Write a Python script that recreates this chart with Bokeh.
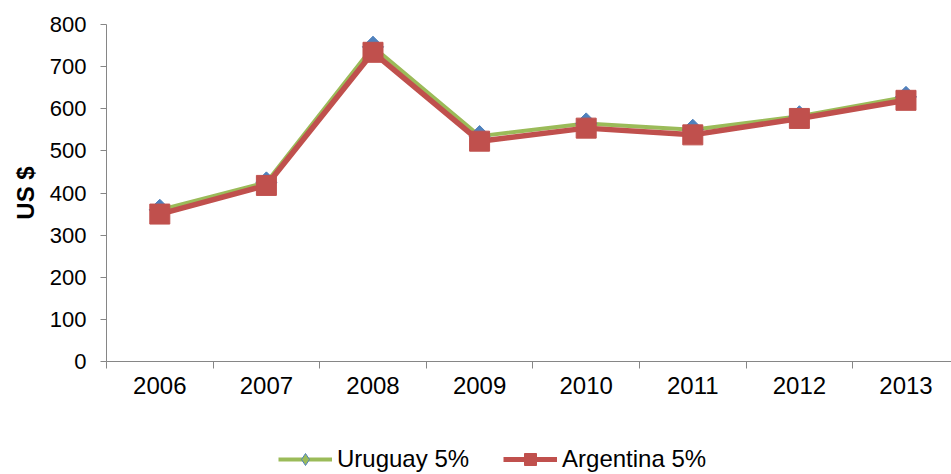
import numpy as np
from bokeh.plotting import figure
from bokeh.layouts import column
from bokeh.models import Range1d, FixedTicker, Legend, LegendItem, ColumnDataSource
from bokeh.embed import file_html
from bokeh.resources import INLINE

years = ["2006", "2007", "2008", "2009", "2010", "2011", "2012", "2013"]
uruguay = [360, 425, 747, 535, 565, 550, 582, 628]
argentina = [350, 418, 734, 523, 554, 538, 577, 620]
y_ticks = [0, 100, 200, 300, 400, 500, 600, 700, 800]
series_names = ["Uruguay 5%", "Argentina 5%"]

xpos = list(np.arange(len(years)) + 0.5)
src = ColumnDataSource(dict(x=xpos, uru=uruguay, arg=argentina))

FONT = "Liberation Sans"
AXIS_COLOR = "#868686"
GREEN = "#9BBB59"
BLUE = "#4F81BD"
RED = "#C0504D"

p = figure(width=951, height=420, output_backend="svg", toolbar_location=None,
           x_range=Range1d(0, 7.927), y_range=Range1d(0, 800),
           min_border_left=106, min_border_right=0, min_border_top=24, min_border_bottom=59)
p.outline_line_color = None
p.grid.visible = False
p.background_fill_color = "white"
p.border_fill_color = "white"

# y axis
ya = p.yaxis[0]
ya.ticker = FixedTicker(ticks=y_ticks)
ya.axis_line_color = AXIS_COLOR
ya.major_tick_line_color = AXIS_COLOR
ya.major_tick_out = 6
ya.major_tick_in = 0
ya.minor_tick_line_color = None
ya.major_label_text_font = FONT
ya.major_label_text_font_size = "22px"
ya.major_label_text_color = "black"
ya.major_label_standoff = 14
ya.axis_label = "US $"
ya.axis_label_text_font = FONT
ya.axis_label_text_font_size = "24px"
ya.axis_label_text_font_style = "bold"
ya.axis_label_text_color = "black"
ya.axis_label_standoff = 8

# x axis: labels at category centres, tick marks at boundaries
xa = p.xaxis[0]
xa.ticker = FixedTicker(ticks=xpos, minor_ticks=list(range(len(years) + 1)))
xa.major_label_overrides = {float(x): y for x, y in zip(xpos, years)}
xa.axis_line_color = AXIS_COLOR
xa.major_tick_line_color = None
xa.major_tick_out = 7
xa.minor_tick_line_color = AXIS_COLOR
xa.minor_tick_out = 7
xa.minor_tick_in = 0
xa.major_label_text_font = FONT
xa.major_label_text_font_size = "24px"
xa.major_label_text_color = "black"
xa.major_label_standoff = 8

p.line("x", "uru", source=src, line_color=GREEN, line_width=4)
p.scatter("x", "uru", source=src, marker="square", angle=np.pi / 4, size=15,
          fill_color=BLUE, line_color=BLUE)
p.line("x", "arg", source=src, line_color=RED, line_width=5.5)
p.scatter("x", "arg", source=src, marker="square", size=20,
          fill_color=RED, line_color=RED)

# legend strip below the chart (its series lie outside its ranges; only the legend shows)
lg = figure(width=951, height=54, output_backend="svg", toolbar_location=None,
            x_range=Range1d(0, 1), y_range=Range1d(0, 1),
            x_axis_location=None, y_axis_location=None, min_border=0)
lg.outline_line_color = None
lg.grid.visible = False
g1 = lg.line("x", "uru", source=src, line_color=GREEN, line_width=4)
d1 = lg.scatter("x", "uru", source=src, marker="diamond", size=16,
                fill_color=GREEN, line_color=BLUE, line_width=1)
g2 = lg.line("x", "arg", source=src, line_color=RED, line_width=5)
s2 = lg.scatter("x", "arg", source=src, marker="square", size=13,
                fill_color=RED, line_color=RED)
legend = Legend(items=[LegendItem(label=series_names[0], renderers=[g1, d1]),
                       LegendItem(label=series_names[1], renderers=[g2, s2])],
                orientation="horizontal", location=(172, 0), margin=0,
                label_text_font=FONT, label_text_font_size="24px",
                label_text_color="black", glyph_width=54, glyph_height=30,
                label_standoff=5, spacing=34, padding=0,
                border_line_color=None, background_fill_alpha=0)
lg.add_layout(legend, "center")

layout = column(p, lg, spacing=0)
open("out.html", "w").write(file_html(layout, INLINE))
